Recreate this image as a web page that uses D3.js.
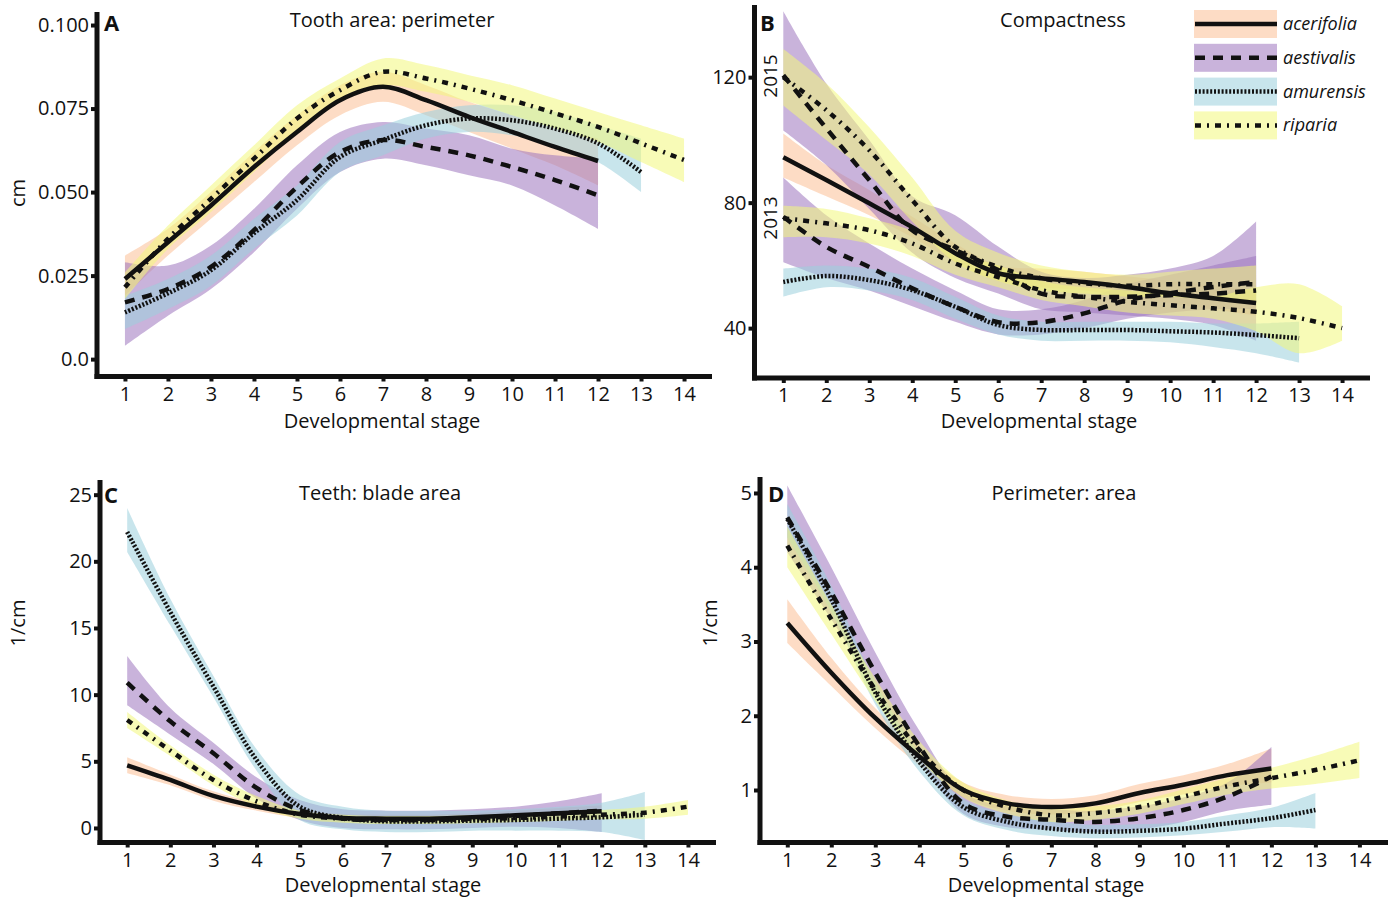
<!DOCTYPE html>
<html>
<head>
<meta charset="utf-8">
<script src="https://cdn.jsdelivr.net/npm/d3@7"></script>
<style>
body{margin:0;background:#fff}
svg text{font-family:"Open Sans",sans-serif;fill:#111}
</style>
</head>
<body>
<svg id="chart" width="1393" height="901"></svg>
<script>
// stages on the x axis
const stages = d3.range(1, 15);
const speciesNames = ["acerifolia", "aestivalis", "amurensis", "riparia"];
const bandColors = ["#fbbf95", "#9d75bd", "#9bd0dc", "#f2f87c"];
const lineDash = [null, "10,8", "2,1.8", "6,6,2,6"];

// each row = [mean, lower, upper], first row is stage 1
// A: tooth area : perimeter
const A_acerifolia = [[0.024,0.019,0.031],[0.035,0.031,0.039],[0.046,0.042,0.050],[0.0575,0.053,0.062],[0.068,0.064,0.073],[0.0775,0.073,0.082],[0.0815,0.077,0.086],[0.0775,0.073,0.082],[0.0725,0.068,0.077],[0.068,0.063,0.073],[0.0635,0.058,0.069],[0.0593,0.052,0.066]];
const A_aestivalis = [[0.017,0.004,0.029],[0.021,0.013,0.028],[0.0276,0.021,0.034],[0.0386,0.032,0.045],[0.0515,0.045,0.058],[0.062,0.056,0.068],[0.0656,0.060,0.071],[0.0635,0.058,0.069],[0.061,0.055,0.067],[0.0575,0.052,0.063],[0.0536,0.046,0.061],[0.049,0.039,0.060]];
const A_amurensis = [[0.014,0.009,0.019],[0.0197,0.015,0.024],[0.0266,0.022,0.031],[0.0377,0.033,0.042],[0.0476,0.043,0.052],[0.0605,0.056,0.065],[0.0656,0.061,0.070],[0.070,0.066,0.074],[0.072,0.068,0.076],[0.0715,0.067,0.076],[0.069,0.064,0.074],[0.0646,0.059,0.070],[0.056,0.050,0.066]];
const A_riparia = [[0.0215,0.018,0.026],[0.036,0.033,0.040],[0.048,0.044,0.052],[0.060,0.056,0.064],[0.072,0.068,0.076],[0.0805,0.077,0.084],[0.086,0.082,0.090],[0.084,0.080,0.088],[0.081,0.077,0.085],[0.0775,0.073,0.082],[0.0736,0.069,0.078],[0.0695,0.065,0.074],[0.0646,0.059,0.070],[0.0596,0.053,0.066]];

// B: compactness (two years for aestivalis and riparia)
const B_acerifolia = [[94.5,88,102],[87.2,82,92],[79.8,76,84],[72.2,69,75.5],[63.9,61,67],[57.5,55,60],[55.9,53,59],[54.7,52,58],[53.1,50,56.5],[51.1,48,55],[49.5,46,53.5],[48,44,52]];
const B_aestivalis2015 = [[120.6,103,141],[103.7,92,118],[87.2,78,100],[71.2,64,82],[64.9,56,76],[58.5,51,66],[51,46,58],[50,45,56],[50,44,57],[50.5,43,59],[51,41,63],[52,36,74]];
const B_aestivalis2013 = [[75.5,61,88],[65.9,56,76],[59.5,52,67],[52.7,47,59],[46.8,42,52],[41.9,38,46],[41.9,38,46],[44.7,40,49],[48.9,43,54],[51.1,45,57],[53.1,46,60],[54.7,46,63]];
const B_amurensis = [[54.7,50,59],[56.6,53,60],[55.3,52,59],[52.1,49,56],[46.8,43,50],[41,38,44],[39.4,36,42],[39.4,36,42],[39.4,36,42],[39,35.5,42],[38.6,34,41.5],[37.8,32,41.5],[36.8,29,42]];
const B_riparia2015 = [[120,111,129],[109.5,100,118],[96.7,89,104],[80.8,74,88],[65.9,61,71],[59.5,55,64],[55.9,52,60],[54.3,51,58],[53.5,50,57],[54,50,58],[54,49,59],[54,48,60]];
const B_riparia2013 = [[75,69,79],[73.4,69,78],[71.2,67,75],[67,63,71],[60.6,57,64],[56.3,53,60],[52.1,49,55],[50,47,53],[48.4,45,52],[47.3,44,51],[46.3,43,50],[45.2,39,53],[43.2,32,54],[40,36,47]];

// C: teeth : blade area
const C_acerifolia = [[4.7,4.1,5.3],[3.6,3.2,4.0],[2.4,2.05,2.75],[1.6,1.3,1.9],[1.05,0.75,1.35],[0.75,0.45,1.05],[0.7,0.4,1.0],[0.7,0.4,1.0],[0.8,0.5,1.1],[0.95,0.6,1.3],[1.1,0.7,1.5],[1.25,0.8,1.7]];
const C_aestivalis = [[10.9,9.2,12.9],[8.0,7.0,9.0],[5.6,4.8,6.4],[3.0,2.2,3.8],[1.35,0.6,2.1],[0.7,0.0,1.4],[0.6,-0.1,1.3],[0.6,-0.1,1.3],[0.7,0.0,1.4],[0.9,0.1,1.6],[1.1,0.0,2.0],[1.3,-0.3,2.6]];
const C_amurensis = [[22.2,20.7,24.0],[16.2,15.2,17.2],[10.6,9.8,11.4],[5.1,4.3,5.9],[1.6,0.6,2.5],[0.75,-0.1,1.6],[0.5,-0.3,1.3],[0.5,-0.3,1.3],[0.55,-0.2,1.3],[0.6,-0.2,1.4],[0.7,-0.2,1.6],[0.8,-0.3,1.9],[1.0,-0.9,2.7]];
const C_riparia = [[8.1,7.5,8.7],[5.8,5.4,6.2],[3.6,3.2,4.0],[2.0,1.6,2.4],[1.0,0.7,1.3],[0.7,0.4,1.0],[0.6,0.3,0.9],[0.6,0.3,0.9],[0.65,0.35,0.95],[0.75,0.45,1.05],[0.85,0.55,1.15],[1.0,0.65,1.35],[1.15,0.7,1.6],[1.6,1.0,2.1]];

// D: perimeter : area
const D_acerifolia = [[3.25,2.98,3.57],[2.58,2.4,2.78],[1.97,1.83,2.1],[1.45,1.33,1.56],[1.0,0.9,1.1],[0.82,0.72,0.93],[0.77,0.67,0.88],[0.82,0.71,0.93],[0.96,0.84,1.08],[1.07,0.94,1.2],[1.2,1.05,1.35],[1.29,1.1,1.56]];
const D_aestivalis = [[4.67,4.2,5.1],[3.66,3.3,4.0],[2.58,2.35,2.85],[1.59,1.4,1.8],[0.82,0.68,0.97],[0.64,0.5,0.78],[0.6,0.46,0.74],[0.57,0.43,0.72],[0.62,0.47,0.78],[0.73,0.57,0.9],[0.91,0.72,1.1],[1.18,0.8,1.58]];
const D_amurensis = [[4.65,4.4,4.85],[3.57,3.4,3.75],[2.31,2.15,2.45],[1.38,1.25,1.5],[0.77,0.66,0.88],[0.57,0.46,0.68],[0.48,0.38,0.58],[0.44,0.35,0.53],[0.45,0.36,0.54],[0.48,0.39,0.57],[0.55,0.44,0.66],[0.62,0.5,0.76],[0.73,0.48,0.96]];
const D_riparia = [[4.29,4.0,4.55],[3.3,3.1,3.5],[2.35,2.2,2.5],[1.54,1.42,1.66],[1.0,0.9,1.1],[0.77,0.68,0.86],[0.66,0.57,0.75],[0.69,0.6,0.78],[0.77,0.68,0.86],[0.91,0.81,1.01],[1.05,0.94,1.16],[1.16,1.02,1.3],[1.27,1.08,1.46],[1.4,1.16,1.65]];

const svg = d3.select("#chart");

const panels = [
  {letter:"A", title:"Tooth area: perimeter", titleX:392, titleY:27, letterX:104, letterY:31,
   yLabel:"cm", yLabelX:18, yLabelY:193, xTitleX:382, xTitleY:428,
   left:97, right:712, top:12, bottom:376.5, xDom:[0.35,14.65], yDom:[-0.0052,0.1039],
   yTicks:[0,0.025,0.05,0.075,0.1], fmt:d => d === 0 ? "0.0" : d3.format(".3f")(d),
   series:[[0,A_acerifolia],[1,A_aestivalis],[2,A_amurensis],[3,A_riparia]]},
  {letter:"B", title:"Compactness", titleX:1063, titleY:27, letterX:760, letterY:31,
   yLabel:null, xTitleX:1039, xTitleY:428,
   left:754.5, right:1370, top:5, bottom:378, xDom:[0.33,14.65], yDom:[24.1,143],
   yTicks:[40,80,120], fmt:d3.format("d"),
   series:[[0,B_acerifolia],[1,B_aestivalis2015],[1,B_aestivalis2013],[2,B_amurensis],[3,B_riparia2015],[3,B_riparia2013]]},
  {letter:"C", title:"Teeth: blade area", titleX:380, titleY:500, letterX:104, letterY:503,
   yLabel:"1/cm", yLabelX:18, yLabelY:623, xTitleX:383, xTitleY:892,
   left:100, right:716, top:480, bottom:842.5, xDom:[0.37,14.65], yDom:[-1.09,26.1],
   yTicks:[0,5,10,15,20,25], fmt:d3.format("d"),
   series:[[0,C_acerifolia],[1,C_aestivalis],[2,C_amurensis],[3,C_riparia]]},
  {letter:"D", title:"Perimeter: area", titleX:1064, titleY:500, letterX:768, letterY:502,
   yLabel:"1/cm", yLabelX:710, yLabelY:623, xTitleX:1046, xTitleY:892,
   left:760, right:1388, top:477, bottom:842.5, xDom:[0.38,14.65], yDom:[0.293,5.215],
   yTicks:[1,2,3,4,5], fmt:d3.format("d"),
   series:[[0,D_acerifolia],[1,D_aestivalis],[2,D_amurensis],[3,D_riparia]]}
];

panels.forEach(p => {
  const x = d3.scaleLinear().domain(p.xDom).range([p.left, p.right]);
  const y = d3.scaleLinear().domain(p.yDom).range([p.bottom, p.top]);
  const g = svg.append("g");

  const area = d3.area()
    .x((d, i) => x(stages[i]))
    .y0(d => y(d[1]))
    .y1(d => y(d[2]))
    .curve(d3.curveCatmullRom.alpha(0.5));
  const line = d3.line()
    .x((d, i) => x(stages[i]))
    .y(d => y(d[0]))
    .curve(d3.curveCatmullRom.alpha(0.5));

  // confidence bands
  g.selectAll(".band").data(p.series).enter().append("path")
    .attr("class", "band")
    .attr("d", s => area(s[1]))
    .attr("fill", s => bandColors[s[0]])
    .attr("fill-opacity", 0.55)
    .attr("stroke", "none");

  // fitted lines
  g.selectAll(".fit").data(p.series).enter().append("path")
    .attr("class", "fit")
    .attr("d", s => line(s[1]))
    .attr("fill", "none")
    .attr("stroke", "#111")
    .attr("stroke-width", 4.5)
    .attr("stroke-dasharray", s => lineDash[s[0]]);

  // y axis
  const yAxis = d3.axisLeft(y).tickValues(p.yTicks).tickFormat(p.fmt).tickSize(6).tickPadding(2);
  const ya = g.append("g").attr("transform", `translate(${p.left},0)`).call(yAxis);
  ya.select(".domain").remove();
  ya.selectAll("line").attr("stroke", "#111").attr("stroke-width", 4);
  ya.selectAll("text").style("font-size", "20px").attr("fill", "#111");

  // x axis
  const xAxis = d3.axisBottom(x).tickValues(stages).tickFormat(d3.format("d")).tickSize(5).tickPadding(5);
  const xa = g.append("g").attr("transform", `translate(0,${p.bottom})`).call(xAxis);
  xa.select(".domain").remove();
  xa.selectAll("line").attr("stroke", "#111").attr("stroke-width", 4);
  xa.selectAll("text").style("font-size", "20px").attr("fill", "#111");

  // thick axis lines
  g.append("line").attr("x1", p.left).attr("x2", p.left)
    .attr("y1", p.top).attr("y2", p.bottom + 2.5)
    .attr("stroke", "#111").attr("stroke-width", 5);
  g.append("line").attr("x1", p.left - 2.5).attr("x2", p.right)
    .attr("y1", p.bottom).attr("y2", p.bottom)
    .attr("stroke", "#111").attr("stroke-width", 5);

  // titles
  g.append("text").attr("x", p.titleX).attr("y", p.titleY)
    .attr("text-anchor", "middle").style("font-size", "20px").text(p.title);
  g.append("text").attr("x", p.letterX).attr("y", p.letterY)
    .style("font-size", "22px").style("font-weight", "bold").text(p.letter);
  g.append("text").attr("x", p.xTitleX).attr("y", p.xTitleY)
    .attr("text-anchor", "middle").style("font-size", "20px").text("Developmental stage");
  if (p.yLabel) {
    g.append("text")
      .attr("transform", `translate(${p.yLabelX + 7},${p.yLabelY}) rotate(-90)`)
      .attr("text-anchor", "middle").style("font-size", "20px").text(p.yLabel);
  }
});

// year labels in panel B
[["2015", 76], ["2013", 218]].forEach(([t, cy]) => {
  svg.append("text")
    .attr("transform", `translate(777,${cy}) rotate(-90)`)
    .attr("text-anchor", "middle").style("font-size", "19px").text(t);
});

// legend
const legend = svg.append("g").attr("transform", "translate(1194,10)");
speciesNames.forEach((name, i) => {
  const row = legend.append("g").attr("transform", `translate(0,${i * 33.8})`);
  row.append("rect").attr("width", 83).attr("height", 28)
    .attr("fill", bandColors[i]).attr("fill-opacity", 0.55);
  row.append("line").attr("x1", 1).attr("x2", 83).attr("y1", 14).attr("y2", 14)
    .attr("stroke", "#111").attr("stroke-width", 4.5)
    .attr("stroke-dasharray", lineDash[i]);
  row.append("text").attr("x", 89).attr("y", 20)
    .style("font-size", "18px").style("font-style", "italic").text(name);
});
</script>
</body>
</html>
